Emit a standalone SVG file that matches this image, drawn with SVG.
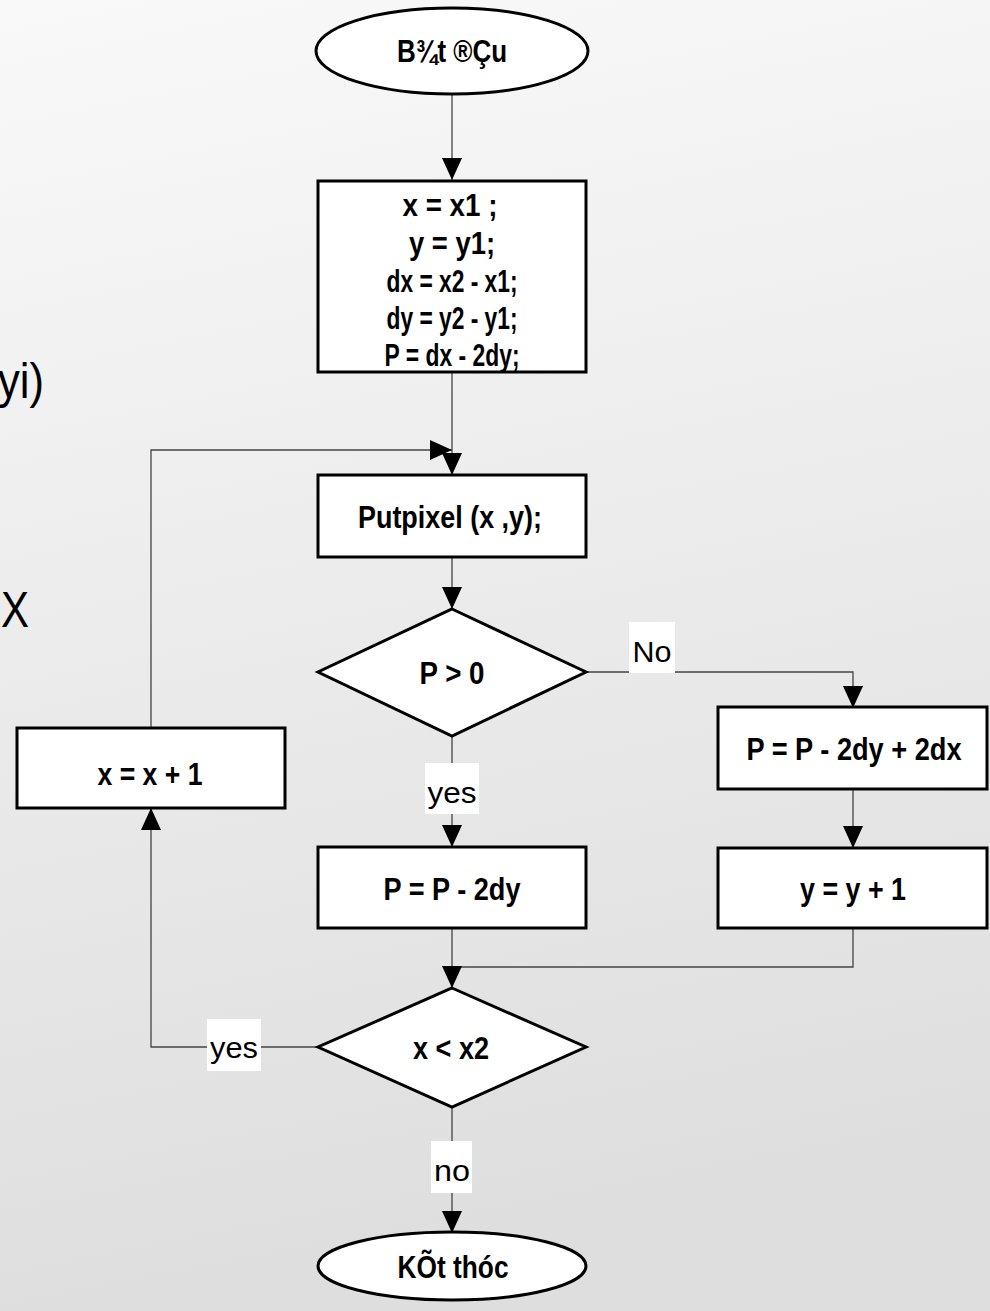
<svg xmlns="http://www.w3.org/2000/svg" width="990" height="1311" viewBox="0 0 990 1311">
<defs>
<linearGradient id="bg" x1="0" y1="0" x2="0.15" y2="1">
<stop offset="0" stop-color="#f9f9f9"/>
<stop offset="1" stop-color="#dedede"/>
</linearGradient>
<marker id="ah" markerUnits="userSpaceOnUse" markerWidth="22" markerHeight="22" viewBox="0 0 22 22" refX="22" refY="11" orient="auto">
<path d="M0,1 L22,11 L0,21 Z" fill="#000"/>
</marker>
<style>
.node{fill:#fff;stroke:#000;stroke-width:3}
.conn{fill:none;stroke:#444;stroke-width:1.3}
.t{font-family:"Liberation Sans",Arial,sans-serif;font-weight:bold;font-size:32px;fill:#000;text-anchor:middle}
.lbl{fill:#fff}
.lt{font-family:"Liberation Sans",Arial,sans-serif;font-size:30px;fill:#000;text-anchor:middle}
.side{font-family:"Liberation Sans",Arial,sans-serif;font-size:50px;fill:#000;text-anchor:end}
</style>
</defs>
<rect width="990" height="1311" fill="url(#bg)"/>
<text class="side" x="44" y="398" textLength="46" lengthAdjust="spacingAndGlyphs">yi)</text>
<text class="side" x="29" y="627" textLength="28" lengthAdjust="spacingAndGlyphs">X</text>
<g id="connectors">
<path class="conn" d="M452 94 V180" marker-end="url(#ah)"/>
<path class="conn" d="M452 372 V475" marker-end="url(#ah)"/>
<path class="conn" d="M151 728 V450 H452" marker-end="url(#ah)"/>
<path class="conn" d="M452 557 V609" marker-end="url(#ah)"/>
<path class="conn" d="M586 672 H853 V708" marker-end="url(#ah)"/>
<path class="conn" d="M452 736 V847" marker-end="url(#ah)"/>
<path class="conn" d="M853 789 V848" marker-end="url(#ah)"/>
<path class="conn" d="M853 928 V967 H452"/>
<path class="conn" d="M452 928 V988" marker-end="url(#ah)"/>
<path class="conn" d="M318 1047 H151 V808" marker-end="url(#ah)"/>
<path class="conn" d="M452 1107 V1233" marker-end="url(#ah)"/>
<g id="label-no1"><rect class="lbl" x="629" y="622" width="46" height="51"/><text class="lt" x="652" y="662" textLength="39" lengthAdjust="spacingAndGlyphs">No</text></g>
<g id="label-yes1"><rect class="lbl" x="425" y="763" width="54" height="51"/><text class="lt" x="452" y="803" textLength="49" lengthAdjust="spacingAndGlyphs">yes</text></g>
<g id="label-yes2"><rect class="lbl" x="207" y="1019" width="54" height="52"/><text class="lt" x="234" y="1058" textLength="48" lengthAdjust="spacingAndGlyphs">yes</text></g>
<g id="label-no2"><rect class="lbl" x="431" y="1141" width="41" height="52"/><text class="lt" x="452" y="1181" textLength="36" lengthAdjust="spacingAndGlyphs">no</text></g>
</g>
<g id="start"><ellipse class="node" cx="452" cy="51" rx="136" ry="43"/><text class="t" x="452" y="62" textLength="110" lengthAdjust="spacingAndGlyphs">B¾t ®Çu</text></g>
<g id="init"><rect class="node" x="318" y="181" width="268" height="191"/>
<text class="t" x="450" y="216" textLength="95" lengthAdjust="spacingAndGlyphs">x = x1 ;</text>
<text class="t" x="452" y="254" textLength="86" lengthAdjust="spacingAndGlyphs">y = y1;</text>
<text class="t" x="452" y="292" textLength="131" lengthAdjust="spacingAndGlyphs">dx = x2 - x1;</text>
<text class="t" x="452" y="329" textLength="131" lengthAdjust="spacingAndGlyphs">dy = y2 - y1;</text>
<text class="t" x="452" y="366" textLength="135" lengthAdjust="spacingAndGlyphs">P = dx - 2dy;</text>
</g>
<g id="putpixel"><rect class="node" x="318" y="475" width="268" height="82"/><text class="t" x="450" y="528" textLength="184" lengthAdjust="spacingAndGlyphs">Putpixel (x ,y);</text></g>
<g id="cond1"><polygon class="node" points="452,609 586,672 452,736 318,672"/><text class="t" x="452" y="684" textLength="65" lengthAdjust="spacingAndGlyphs">P &gt; 0</text></g>
<g id="update-no"><rect class="node" x="718" y="707" width="269" height="82"/><text class="t" x="854" y="760" textLength="215" lengthAdjust="spacingAndGlyphs">P = P - 2dy + 2dx</text></g>
<g id="incy"><rect class="node" x="718" y="848" width="269" height="80"/><text class="t" x="853" y="900" textLength="106" lengthAdjust="spacingAndGlyphs">y = y + 1</text></g>
<g id="update-yes"><rect class="node" x="318" y="847" width="268" height="81"/><text class="t" x="452" y="900" textLength="137" lengthAdjust="spacingAndGlyphs">P = P - 2dy</text></g>
<g id="incx"><rect class="node" x="17" y="728" width="268" height="80"/><text class="t" x="150" y="785" textLength="105" lengthAdjust="spacingAndGlyphs">x = x + 1</text></g>
<g id="cond2"><polygon class="node" points="452,988 586,1047 452,1107 318,1047"/><text class="t" x="451" y="1059" textLength="76" lengthAdjust="spacingAndGlyphs">x &lt; x2</text></g>
<g id="end"><ellipse class="node" cx="452" cy="1266" rx="134" ry="34"/><text class="t" x="453" y="1278" textLength="111" lengthAdjust="spacingAndGlyphs">KÕt thóc</text></g>
</svg>
